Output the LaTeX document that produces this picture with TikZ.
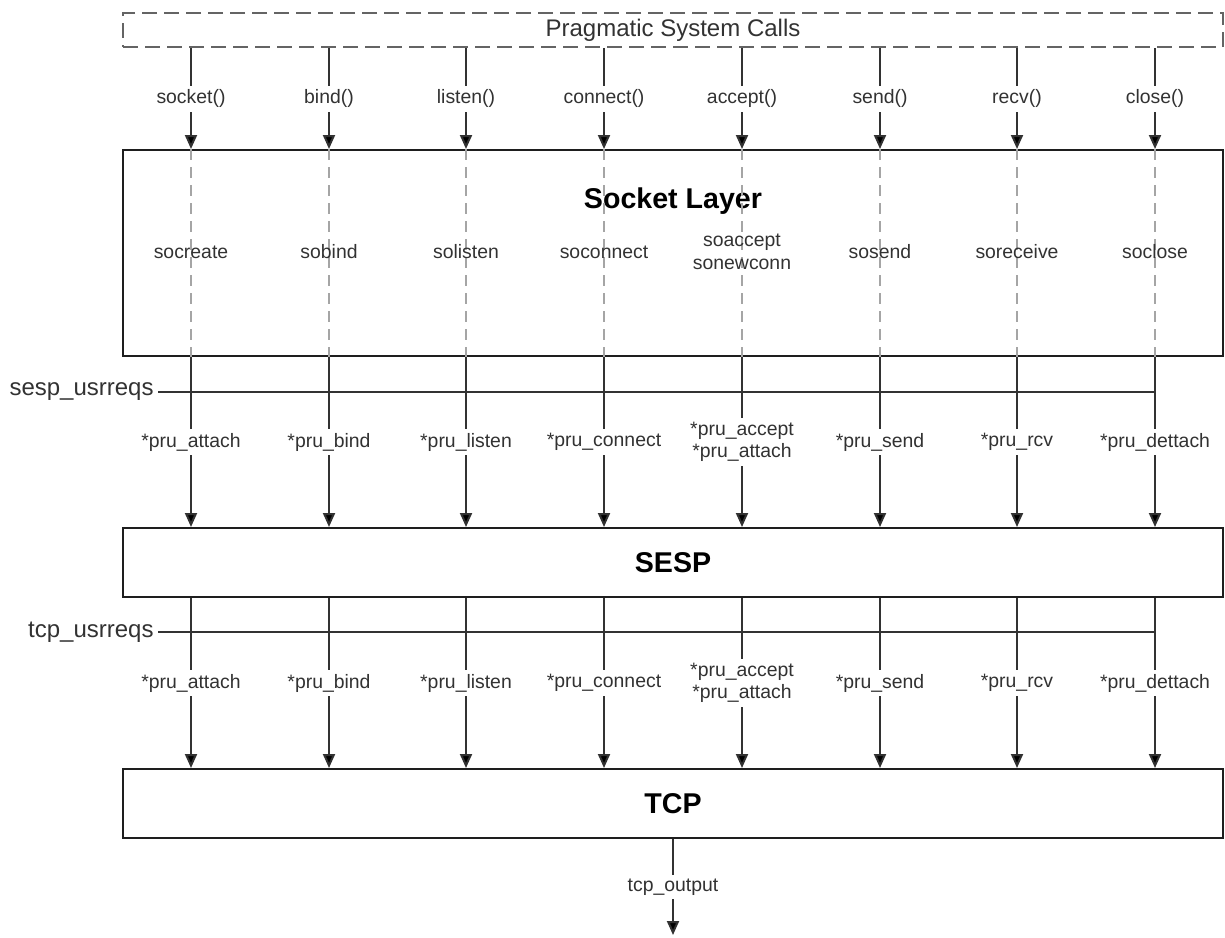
\documentclass[tikz,border=0pt]{standalone}
\usepackage{fontspec}
\setmainfont{Liberation Sans}
\usepackage{xcolor}
\usepackage{tikz}
\usetikzlibrary{arrows.meta, positioning, calc}
\definecolor{lineclr}{RGB}{50,50,50}
\definecolor{boxclr}{RGB}{30,30,30}
\definecolor{dashclr}{RGB}{100,100,100}
\definecolor{guideclr}{RGB}{165,165,165}

\begin{document}
\begin{tikzpicture}[
    x=0.5pt, y=-0.5pt,
    layerbox/.style={
        draw=boxclr,
        line width=1pt,
        minimum width=550pt,
        inner sep=0pt,
        font=\fontsize{14.3}{17}\selectfont\bfseries
    },
    callbox/.style={
        draw=dashclr,
        dash pattern=on 7.5pt off 3.5pt,
        line width=1.2pt,
        minimum width=550pt,
        minimum height=17pt,
        inner sep=0pt,
        text=lineclr,
        font=\fontsize{12}{14}\selectfont
    },
    call/.style={
        draw=lineclr,
        line width=1pt,
        -{Triangle[length=7pt, width=6pt, fill=black]}
    },
    tap/.style={draw=lineclr, line width=1pt},
    guide/.style={
        draw=guideclr,
        line width=0.8pt,
        dash pattern=on 5.5pt off 3.5pt
    },
    calllbl/.style={
        fill=white,
        inner sep=2pt,
        align=center,
        text=lineclr,
        font=\fontsize{9.7}{11.2}\selectfont
    },
    fnlbl/.style={
        inner sep=1pt,
        align=center,
        text=lineclr,
        font=\fontsize{9.7}{11.2}\selectfont
    },
    sidelbl/.style={
        anchor=east,
        inner sep=2pt,
        text=lineclr,
        font=\fontsize{12}{14}\selectfont
    }
]
\useasboundingbox (0,0) rectangle (1225,937);

\node[callbox] (calls) at (673,30) {Pragmatic System Calls};
\node[layerbox, minimum height=103pt] (sock) at (673,253) {};
\node[font=\fontsize{14.3}{17}\selectfont\bfseries, below=16pt of sock.north] (socktitle) {Socket Layer};
\node[layerbox, minimum height=34.5pt] (sesp) at (673,562.5) {SESP};
\node[layerbox, minimum height=34.5pt] (tcp) at (673,803.5) {TCP};

\coordinate (fnrow) at (0,252);
\coordinate (outend) at (673,935);
\foreach \cx [count=\i] in {191,329,466,604,742,880,1017,1155}
    \coordinate (col\i) at (\cx,0);

\node[sidelbl] (sespreq) at (158,392) {sesp\_usrreqs};
\node[sidelbl] (tcpreq) at (158,632) {tcp\_usrreqs};
\draw[tap] (sespreq.east) -- (col8 |- sespreq.east);
\draw[tap] (tcpreq.east) -- (col8 |- tcpreq.east);

\foreach \sysc/\sofn/\pru [count=\i] in {
    socket()/socreate/*pru\_attach,
    bind()/sobind/*pru\_bind,
    listen()/solisten/*pru\_listen,
    connect()/soconnect/*pru\_connect,
    accept()/{soaccept\\sonewconn}/{*pru\_accept\\*pru\_attach},
    send()/sosend/*pru\_send,
    recv()/soreceive/*pru\_rcv,
    close()/soclose/*pru\_dettach}
{
    \draw[guide] (col\i |- sock.north) -- (col\i |- sock.south);
    \node[fnlbl] (so\i) at (col\i |- fnrow) {\sofn};
    \draw[call] (col\i |- calls.south) -- node[calllbl] (sys\i) {\sysc} (col\i |- sock.north);
    \draw[call] (col\i |- sock.south) -- node[calllbl] (pa\i) {\pru} (col\i |- sesp.north);
    \draw[call] (col\i |- sesp.south) -- node[calllbl] (pb\i) {\pru} (col\i |- tcp.north);
}

\draw[call] (tcp.south) -- node[calllbl] (tcpout) {tcp\_output} (outend);
\end{tikzpicture}
\end{document}
